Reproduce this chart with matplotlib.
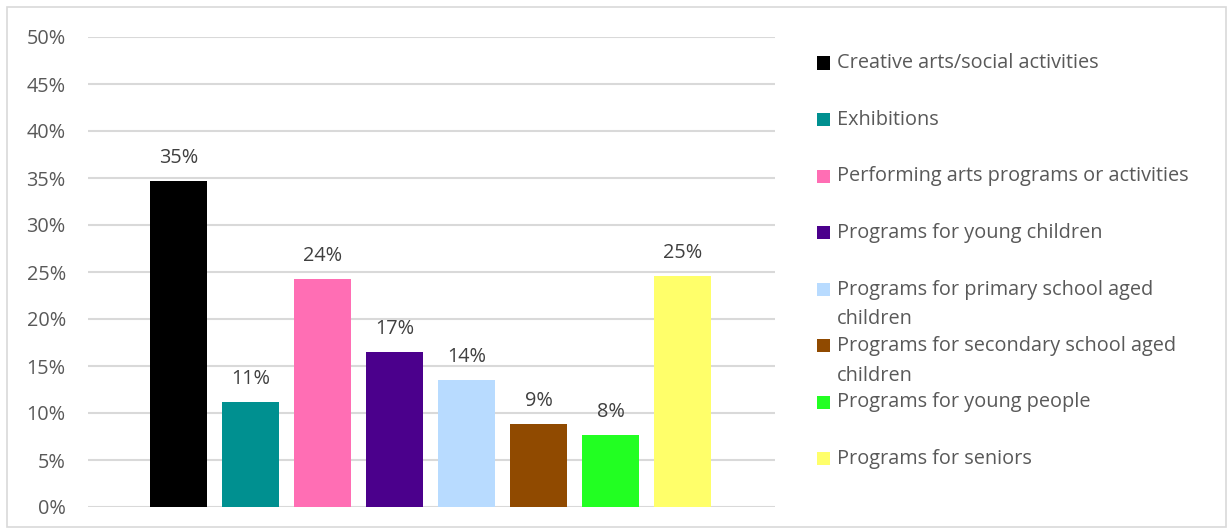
import matplotlib
matplotlib.use("Agg")
import matplotlib.pyplot as plt
from matplotlib.patches import Rectangle

categories = [
    "Creative arts/social activities",
    "Exhibitions",
    "Performing arts programs or activities",
    "Programs for young children",
    "Programs for primary school aged\nchildren",
    "Programs for secondary school aged\nchildren",
    "Programs for young people",
    "Programs for seniors",
]
values = [34.7, 11.2, 24.3, 16.5, 13.5, 8.8, 7.7, 24.6]
value_labels = ["35%", "11%", "24%", "17%", "14%", "9%", "8%", "25%"]
colors = ["#000000", "#009090", "#FF6EB4", "#4B008C", "#B8DBFF",
          "#904A00", "#22FF22", "#FFFF6A"]
yticks = [0, 5, 10, 15, 20, 25, 30, 35, 40, 45, 50]
ytick_labels = [f"{t}%" for t in yticks]

FONT = "Open Sans"
TXT = "#595959"
FS = 14.3
W, H = 1228, 529
fig = plt.figure(figsize=(W / 100, H / 100), dpi=100)

# outer chart border
fig.patches.append(Rectangle((7 / W, 2 / H), (W - 9) / W, (H - 9) / H,
                             transform=fig.transFigure, fill=False,
                             edgecolor="#D9D9D9", linewidth=1.2))

ax = fig.add_axes([88 / W, 1 - 507 / H, (775 - 88) / W, (507 - 37) / H])
x = list(range(len(values)))
ax.bar(x, values, width=0.79, color=colors, zorder=3)
ax.set_xlim(-1.26, 8.28)
ax.set_ylim(0, 50)
ax.set_yticks(yticks)
ax.set_yticklabels(ytick_labels, fontfamily=FONT, fontsize=FS, color=TXT)
ax.set_xticks([])
ax.tick_params(axis="y", length=0, pad=16)
for s in ax.spines.values():
    s.set_visible(False)
ax.grid(axis="y", color="#D9D9D9", linewidth=1.5, zorder=0)
ax.set_axisbelow(True)

for xi, v, lab in zip(x, values, value_labels):
    ax.annotate(lab, (xi, v), xytext=(0, 23), textcoords="offset pixels",
                ha="center", va="center", fontfamily=FONT, fontsize=FS,
                color="#404040")

# legend (manual, Excel-like layout)
y0 = 62
pitch = 56.5
line_gap = 30
for i, (lab, c) in enumerate(zip(categories, colors)):
    yc = y0 + i * pitch
    fig.patches.append(Rectangle((817 / W, 1 - (yc + 7.5) / H), 13 / W, 13 / H,
                                 transform=fig.transFigure, facecolor=c,
                                 edgecolor="none"))
    for j, line in enumerate(lab.split("\n")):
        fig.text(837 / W, 1 - (yc + 1.5 + j * line_gap) / H, line, ha="left",
                 va="center", fontfamily=FONT, fontsize=FS, color=TXT)

fig.savefig("out.png", dpi=100)
